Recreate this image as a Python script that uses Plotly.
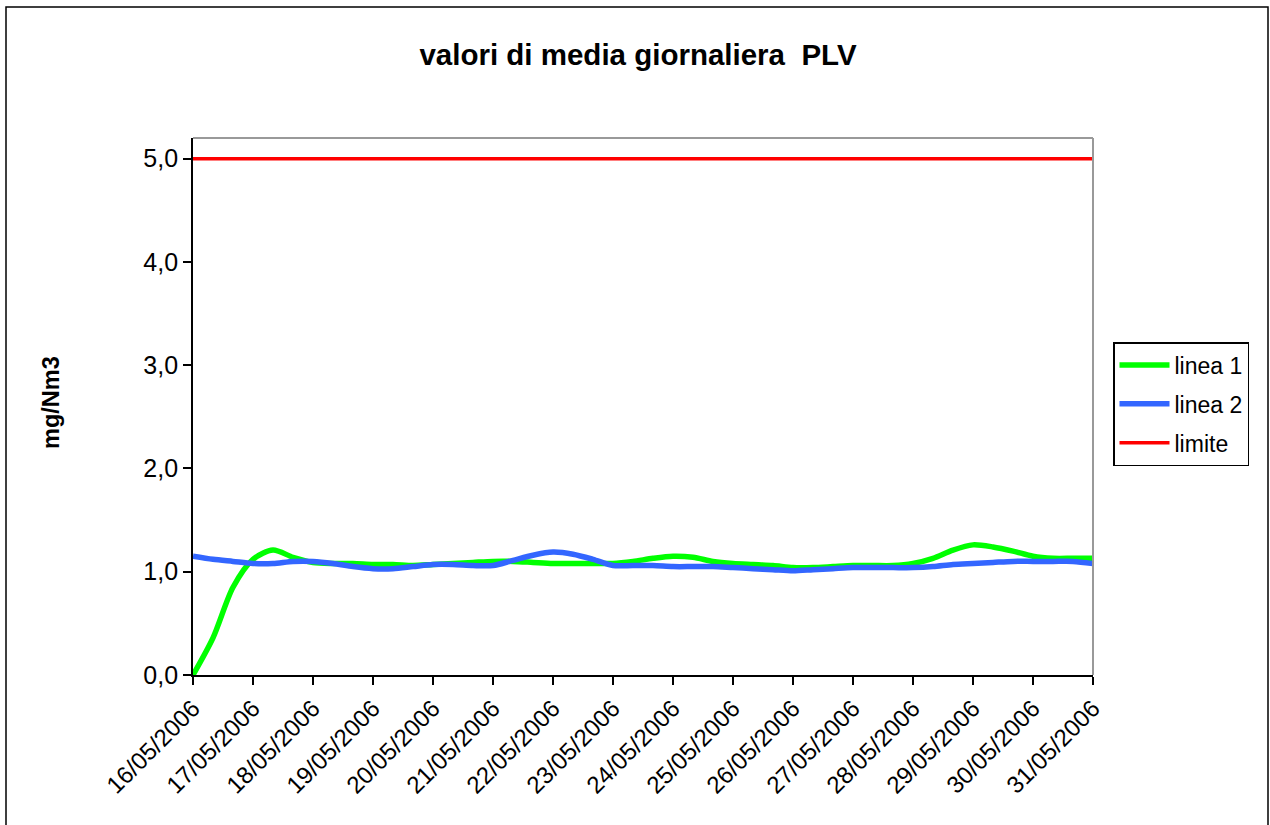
import plotly.graph_objects as go

# Day labels on the x axis
dates = ["16/05/2006", "17/05/2006", "18/05/2006", "19/05/2006", "20/05/2006",
         "21/05/2006", "22/05/2006", "23/05/2006", "24/05/2006", "25/05/2006",
         "26/05/2006", "27/05/2006", "28/05/2006", "29/05/2006", "30/05/2006",
         "31/05/2006"]

# Samples every 1/3 day (day index from 16/05)
t = [i / 3 for i in range(46)]

linea1 = [0.00, 0.36, 0.85, 1.12, 1.21, 1.14, 1.09, 1.08, 1.08, 1.07,
          1.07, 1.06, 1.07, 1.08, 1.09, 1.10, 1.10, 1.09, 1.08, 1.08,
          1.08, 1.08, 1.10, 1.13, 1.15, 1.14, 1.10, 1.08, 1.07, 1.06,
          1.04, 1.04, 1.05, 1.06, 1.06, 1.06, 1.08, 1.13, 1.21, 1.26,
          1.24, 1.20, 1.15, 1.13, 1.13, 1.13]

linea2 = [1.15, 1.12, 1.10, 1.08, 1.08, 1.10, 1.10, 1.08, 1.05, 1.03,
          1.03, 1.05, 1.07, 1.07, 1.06, 1.06, 1.11, 1.16, 1.19, 1.17,
          1.12, 1.06, 1.06, 1.06, 1.05, 1.05, 1.05, 1.04, 1.03, 1.02,
          1.01, 1.02, 1.03, 1.04, 1.04, 1.04, 1.04, 1.05, 1.07, 1.08,
          1.09, 1.10, 1.10, 1.10, 1.10, 1.08]

limite = [5.0] * len(t)

y_ticks = [0, 1, 2, 3, 4, 5]

font_family = "Liberation Sans, Arial, sans-serif"

W, H = 1270, 825
L, R, T, B = 193, 177, 138, 150
PW, PH = W - L - R, H - T - B

fig = go.Figure()
fig.add_trace(go.Scatter(x=t, y=linea1, mode="lines", name="linea 1", legendgroup="a",
                         line=dict(color="#00FF00", width=5.5, shape="spline", smoothing=0.8)))
fig.add_trace(go.Scatter(x=t, y=linea2, mode="lines", name="linea 2", legendgroup="b",
                         line=dict(color="#3366FF", width=5.5, shape="spline", smoothing=0.8)))
fig.add_trace(go.Scatter(x=t, y=limite, mode="lines", name="limite", legendgroup="c",
                         line=dict(color="#FF0000", width=3.5)))

fig.update_layout(
    width=W, height=H,
    margin=dict(l=L, r=R, t=T, b=B),
    paper_bgcolor="white", plot_bgcolor="white",
    separators=", ",
    font=dict(family=font_family, color="black", size=22),
    title=dict(text="<b>valori di media giornaliera  PLV</b>",
               x=(638) / W, xanchor="center", y=1 - 55 / H, yanchor="middle",
               font=dict(size=29.5, family=font_family)),
    legend=dict(x=(1113 - L) / PW, xanchor="left", y=(H - B - 342) / PH, yanchor="top",
                bordercolor="black", borderwidth=1.5,
                font=dict(size=23, family=font_family),
                itemwidth=50, tracegroupgap=6),
    showlegend=True,
)

fig.update_xaxes(
    range=[0, 15],
    tickmode="array", tickvals=list(range(16)), ticktext=dates,
    tickangle=-45,
    showgrid=False, zeroline=False,
    showline=True, linecolor="black", linewidth=1.8,
    ticks="outside", ticklen=8, tickcolor="black", tickwidth=1.5,
    tickfont=dict(size=24, family=font_family),
)
fig.update_yaxes(
    range=[0, 5.2],
    tickvals=y_ticks, tickformat=".1f",
    showgrid=False, zeroline=False,
    showline=True, linecolor="black", linewidth=1.8,
    ticks="outside", ticklen=8, tickcolor="black", tickwidth=1.5,
    tickfont=dict(size=25, family=font_family),
)

# y axis title
fig.add_annotation(text="<b>mg/Nm3</b>", xref="paper", yref="paper",
                   x=(51 - L) / PW, y=(H - B - 403) / PH, xanchor="center", yanchor="middle",
                   textangle=-90, showarrow=False, font=dict(size=23.5, family=font_family))

# gray top and right borders of the plot area, and outer chart frame
fig.add_shape(type="line", xref="paper", yref="paper", x0=1, x1=1, y0=0, y1=1,
              line=dict(color="#999999", width=2))
fig.add_shape(type="line", xref="paper", yref="paper", x0=0, x1=1, y0=1, y1=1,
              line=dict(color="#999999", width=2))
fig.add_shape(type="rect", xref="paper", yref="paper",
              x0=(6 - L) / PW, x1=(1268 - L) / PW,
              y0=(H - B - 840) / PH, y1=(H - B - 7) / PH,
              line=dict(color="black", width=1.5), fillcolor="rgba(0,0,0,0)", layer="below")

fig.write_html("out.html", config={"displayModeBar": False},
               post_script="document.body.style.margin='0px';")
